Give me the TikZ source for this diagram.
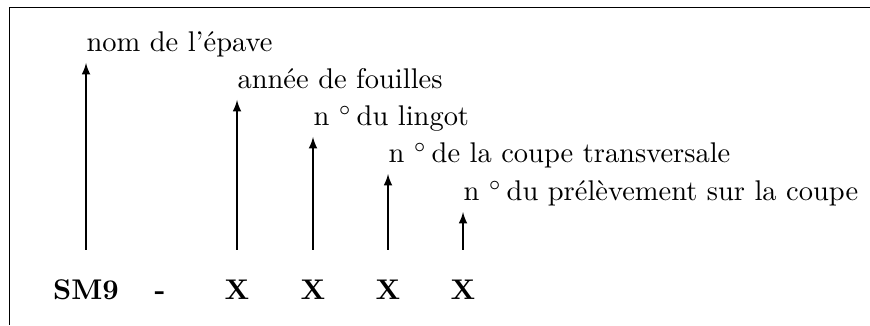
\documentclass[tikz,border=0pt]{standalone}
\usepackage{fontspec}
\usetikzlibrary{arrows}
\begin{document}
\begin{tikzpicture}
\useasboundingbox (0,0) rectangle (10.74,4.012);
% the frame, only its top and left sides show
\draw[line width=0.5pt] (10.74,3.92) -- (0.117,3.92) -- (0.117,0);
% the code under the arrows
\foreach \n/\x/\texto in {1/1.062/SM9,2/1.975/-,3/2.926/X,4/3.864/X,5/4.790/X,6/5.716/X}
  \node[anchor=base,font=\bfseries] (c\n) at (\x,0.309) {\texto};
% arrows and their labels
\foreach \n/\x/\y/\texto in {1/1.062/3.235/{nom de l'épave},2/2.926/2.778/{année de fouilles},3/3.864/2.321/{n $^\circ$\,du lingot},4/4.790/1.864/{n $^\circ$\,de la coupe transversale},5/5.716/1.395/{n $^\circ$\,du prélèvement sur la coupe}}
{
  \coordinate (b\n) at (\x,0.926);
  \coordinate (t\n) at (\x,\y);
  \node[anchor=base west,inner sep=0pt] (l\n) at ([yshift=0.136cm]t\n) {\texto};
  \draw[-latex] (b\n) -- (t\n);
}
\end{tikzpicture}
\end{document}
